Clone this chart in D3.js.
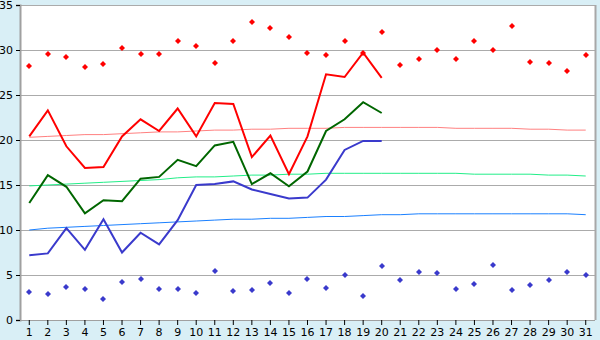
<!DOCTYPE html>
<html><head><meta charset="utf-8">
<script src="https://cdn.jsdelivr.net/npm/d3@7"></script>
<style>html,body{margin:0;padding:0;background:#d9eff6;}svg{display:block;}</style>
</head><body><svg id="c" width="600" height="340"></svg>
<script>
const days = d3.range(1, 32);
const maxDots = [28.2,29.6,29.2,28.1,28.5,30.2,29.6,29.6,31.0,30.4,28.6,31.0,33.1,32.4,31.4,29.7,29.4,31.0,29.7,32.0,28.3,29.0,30.0,29.0,31.0,30.0,32.7,28.7,28.6,27.7,29.5];
const minDots = [3.15,2.85,3.7,3.5,2.3,4.2,4.6,3.4,3.4,2.96,5.5,3.2,3.33,4.07,2.96,4.6,3.6,4.96,2.7,5.96,4.4,5.3,5.2,3.4,3.96,6.07,3.3,3.85,4.4,5.3,4.96];
const maxLine = [20.4,23.3,19.3,16.9,17.0,20.4,22.3,21.0,23.5,20.4,24.1,24.0,18.1,20.5,16.2,20.4,27.3,27.0,29.7,26.9];
const meanLine = [13.0,16.1,14.8,11.85,13.3,13.2,15.7,15.9,17.8,17.1,19.4,19.8,15.1,16.3,14.86,16.5,21.0,22.3,24.2,23.0];
const minLine = [7.2,7.4,10.2,7.8,11.2,7.5,9.7,8.4,11.1,15.0,15.1,15.4,14.5,14.0,13.5,13.6,15.6,18.9,19.9,19.9];
const maxNormal = [20.3,20.4,20.5,20.6,20.6,20.7,20.8,20.9,20.9,21.0,21.1,21.1,21.2,21.2,21.3,21.3,21.3,21.4,21.4,21.4,21.4,21.4,21.4,21.3,21.3,21.3,21.3,21.2,21.2,21.1,21.1];
const meanNormal = [14.9,15.0,15.1,15.2,15.3,15.4,15.5,15.6,15.8,15.9,15.9,16.0,16.1,16.1,16.2,16.2,16.3,16.3,16.3,16.3,16.3,16.3,16.3,16.3,16.2,16.2,16.2,16.2,16.1,16.1,16.0];
const minNormal = [10.0,10.2,10.3,10.4,10.5,10.6,10.7,10.8,10.9,11.0,11.1,11.2,11.2,11.3,11.3,11.4,11.5,11.5,11.6,11.7,11.7,11.8,11.8,11.8,11.8,11.8,11.8,11.8,11.8,11.8,11.7];
const yTicks = [0,5,10,15,20,25,30,35];

const svg = d3.select("#c");
const L = 20, R = 595, T = 5, B = 320;
const x = d3.scaleBand().domain(days).range([L, R]);
const xc = d => x(d) + x.bandwidth() / 2;
const y = d3.scaleLinear().domain([0, 35]).range([B, T]);

svg.append("rect").attr("x", L).attr("y", T).attr("width", R - L).attr("height", B - T).attr("fill", "#fff");

// grid
svg.append("g").selectAll("line").data(yTicks.filter(v => v > 0)).join("line")
  .attr("x1", L).attr("x2", R).attr("y1", v => Math.round(y(v)) + 0.5).attr("y2", v => Math.round(y(v)) + 0.5)
  .attr("stroke", "#ababab").attr("stroke-width", 1);
// right border
svg.append("line").attr("x1", R + 0.5).attr("x2", R + 0.5).attr("y1", T).attr("y2", B).attr("stroke", "#a8a8a8").attr("stroke-width", 2);

// axes
const yAxis = d3.axisLeft(y).tickValues(yTicks).tickSize(4).tickPadding(3);
const gy = svg.append("g").attr("transform", `translate(${L},0)`).call(yAxis);
gy.select(".domain").attr("stroke", "#a0a0a0").attr("stroke-width", 2);
gy.selectAll(".tick line").attr("stroke", "#000");
gy.selectAll("text").attr("font-family", "DejaVu Sans, Verdana, sans-serif").attr("font-size", 11).attr("fill", "#000");

const xAxis = d3.axisBottom(x).tickSize(5).tickPadding(3);
const gx = svg.append("g").attr("transform", `translate(0,${B})`).call(xAxis);
gx.select(".domain").attr("stroke", "#a0a0a0").attr("stroke-width", 1).attr("d", `M${L},0.5H${R}`);
gx.selectAll(".tick line").attr("stroke", "#000");
gx.selectAll("text").attr("font-family", "DejaVu Sans, Verdana, sans-serif").attr("font-size", 11).attr("fill", "#000");

const line = d3.line().x((d, i) => xc(days[i])).y(d => y(d));
function drawLine(data, color, w) {
  svg.append("path").datum(data).attr("d", line).attr("fill", "none")
    .attr("stroke", color).attr("stroke-width", w).attr("stroke-linejoin", "miter");
}
drawLine(maxNormal, "#ff8080", 1);
drawLine(meanNormal, "#22ee88", 1);
drawLine(minNormal, "#1a80ff", 1);
drawLine(minLine, "#3a3acc", 2);
drawLine(meanLine, "#006600", 2);
drawLine(maxLine, "#ff0000", 2);

function drawDots(data, color) {
  svg.append("g").selectAll("path").data(data).join("path")
    .attr("d", (d, i) => {
      const cx = Math.round(xc(days[i])), cy = Math.round(y(d));
      return `M${cx},${cy - 3}L${cx + 3},${cy}L${cx},${cy + 3}L${cx - 3},${cy}Z`;
    })
    .attr("fill", color);
}
drawDots(maxDots, "#ff0000");
drawDots(minDots, "#3a3acc");
</script></body></html>
